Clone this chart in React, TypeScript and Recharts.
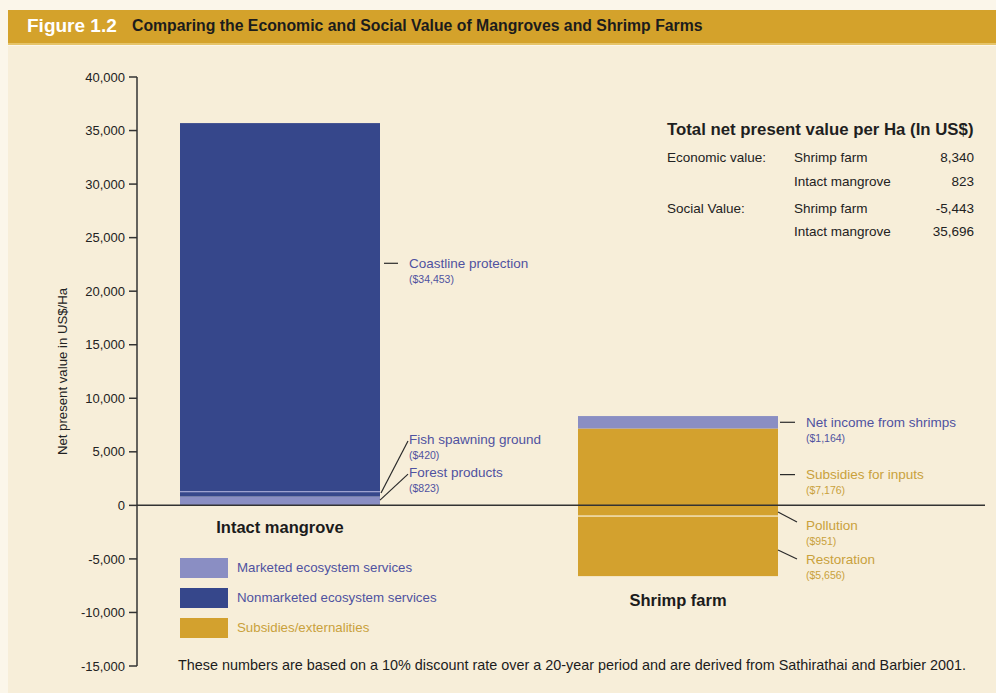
import React from 'react';
import { BarChart, Bar, XAxis, YAxis, ReferenceLine, LabelList } from 'recharts';

// ---------- data ----------
const categories = ['Intact mangrove', 'Shrimp farm'];
const forestProducts = [823, 0];
const fishSpawning = [420, 0];
const coastline = [34453, 0];
const subsidies = [0, 7176];
const netIncome = [0, 1164];
const pollution = [0, -951];
const restoration = [0, -5656];
const yTicks = [-15000, -10000, -5000, 0, 5000, 10000, 15000, 20000, 25000, 30000, 35000, 40000];

const tableTitle = 'Total net present value per Ha (In US$)';
const tableGroups = ['Economic value:', '', 'Social Value:', ''];
const tableItems = ['Shrimp farm', 'Intact mangrove', 'Shrimp farm', 'Intact mangrove'];
const tableValues = ['8,340', '823', '-5,443', '35,696'];

const legendLabels = ['Marketed ecosystem services', 'Nonmarketed ecosystem services', 'Subsidies/externalities'];
const footnote =
  'These numbers are based on a 10% discount rate over a 20-year period and are derived from Sathirathai and Barbier 2001.';

// ---------- styles ----------
const C_MARKET = '#8A8EC3';
const C_NONMARKET = '#36478B';
const C_GOLD = '#D3A12E';
const T_BLUE = '#4F52A0';
const T_GOLD = '#C9A13C';
const BG = '#F7EED9';
const FONT = '"Liberation Sans", Arial, sans-serif';
const legendColors = [C_MARKET, C_NONMARKET, C_GOLD];
const legendTextColors = [T_BLUE, T_BLUE, T_GOLD];

const data = categories.map((name, i) => ({
  name,
  forestProducts: forestProducts[i],
  fishSpawning: fishSpawning[i],
  coastline: coastline[i],
  subsidies: subsidies[i],
  netIncome: netIncome[i],
  pollution: pollution[i],
  restoration: restoration[i],
}));

type Note = {
  index: number;
  title: string;
  amount: string;
  color: string;
  anchor: number; // fraction down the segment where the leader starts
  startDx: number;
  endDx: number;
  rise: number;
  textDx: number;
  textDy: number;
};

const notes: Record<string, Note> = {
  coastline: { index: 0, title: 'Coastline protection', amount: '($34,453)', color: T_BLUE, anchor: 0.38, startDx: 4, endDx: 18, rise: 0, textDx: 29, textDy: 0 },
  fishSpawning: { index: 0, title: 'Fish spawning ground', amount: '($420)', color: T_BLUE, anchor: 0.2, startDx: 1, endDx: 28, rise: -52, textDx: 29, textDy: -2 },
  forestProducts: { index: 0, title: 'Forest products', amount: '($823)', color: T_BLUE, anchor: 0.4, startDx: 0, endDx: 28, rise: -26, textDx: 29, textDy: -2 },
  netIncome: { index: 1, title: 'Net income from shrimps', amount: '($1,164)', color: T_BLUE, anchor: 0.5, startDx: 2, endDx: 17, rise: 0, textDx: 28, textDy: 0 },
  subsidies: { index: 1, title: 'Subsidies for inputs', amount: '($7,176)', color: T_GOLD, anchor: 0.6, startDx: 2, endDx: 17, rise: 0, textDx: 28, textDy: 0 },
  pollution: { index: 1, title: 'Pollution', amount: '($951)', color: T_GOLD, anchor: 0.65, startDx: 0, endDx: 19, rise: 10, textDx: 28, textDy: 3 },
  restoration: { index: 1, title: 'Restoration', amount: '($5,656)', color: T_GOLD, anchor: 0.57, startDx: 0, endDx: 19, rise: 9, textDx: 28, textDy: 0 },
};

const geom = (p: any) => {
  const vb = p.viewBox && p.viewBox.width !== undefined ? p.viewBox : p;
  const x = Number(vb.x);
  const w = Number(vb.width);
  const y = Number(vb.y);
  const h = Number(vb.height);
  return { x, w, top: Math.min(y, y + h), h: Math.abs(h) };
};

const renderNote = (key: string) => (p: any) => {
  const n = notes[key];
  if (p.index !== n.index) return null;
  const { x, w, top, h } = geom(p);
  const right = x + w;
  const sy = top + h * n.anchor;
  const ey = sy + n.rise;
  const ty = ey + n.textDy;
  return (
    <g>
      <line x1={right + n.startDx} y1={sy} x2={right + n.endDx} y2={ey} stroke="#2a2a2a" strokeWidth={1.2} />
      <text x={right + n.textDx} y={ty} dy="0.35em" fill={n.color} fontSize={13.5} fontFamily={FONT}>
        {n.title}
      </text>
      <text x={right + n.textDx} y={ty + 16} dy="0.35em" fill={n.color} fontSize={10.5} fontFamily={FONT}>
        {n.amount}
      </text>
    </g>
  );
};

const renderCategory = (idx: number, gap: number) => (p: any) => {
  if (p.index !== idx) return null;
  const { x, w, top, h } = geom(p);
  return (
    <text x={x + w / 2} y={top + h + gap} dy="0.35em" textAnchor="middle" fill="#1b1b1b" fontSize={16.5} fontWeight="bold" fontFamily={FONT}>
      {categories[idx]}
    </text>
  );
};

const SegShape = (sep: 'none' | 'bottom' | 'top') => (p: any) => {
  const { x, width, y, height, fill } = p;
  const top = Math.min(y, y + height);
  const h = Math.abs(height);
  if (!h || h < 0.3) return null;
  return (
    <g>
      <rect x={x} y={top} width={width} height={h} fill={fill} />
      {sep === 'bottom' && <line x1={x} x2={x + width} y1={top + h - 0.5} y2={top + h - 0.5} stroke="#9DA1D0" strokeWidth={1.3} />}
      {sep === 'top' && <line x1={x} x2={x + width} y1={top + 0.5} y2={top + 0.5} stroke="#F4E7C4" strokeWidth={1.3} />}
    </g>
  );
};

const fmt = (v: number) => v.toLocaleString('en-US');

export default function App() {
  return (
    <div style={{ position: 'relative', width: 996, height: 693, background: '#FBF6EA', overflow: 'hidden', fontFamily: FONT }}>
      <style>{'body{margin:0;}'}</style>
      {/* title bar */}
      <div style={{ position: 'absolute', left: 8, top: 10, width: 988, height: 35, background: '#D4A22B', borderBottom: '2px solid #E6C46A', boxSizing: 'border-box' }}>
        <span style={{ position: 'absolute', left: 19, top: 5, color: '#fff', fontWeight: 'bold', fontSize: 19 }}>Figure 1.2</span>
        <span style={{ position: 'absolute', left: 124, top: 7, color: '#1c1c1c', fontWeight: 'bold', fontSize: 15.8 }}>
          Comparing the Economic and Social Value of Mangroves and Shrimp Farms
        </span>
      </div>
      <div style={{ position: 'absolute', left: 8, top: 46, width: 988, height: 647, background: BG }} />

      <div style={{ position: 'absolute', left: 0, top: 0 }}>
        <BarChart width={996} height={693} data={data} stackOffset="sign" margin={{ top: 77, bottom: 27, left: 57, right: 11 }}>
          <XAxis dataKey="name" hide padding={{ left: -56, right: 108 }} />
          <YAxis
            domain={[-15000, 40000]}
            ticks={yTicks}
            interval={0}
            tickFormatter={fmt}
            width={80}
            tickSize={8}
            tickMargin={4}
            axisLine={{ stroke: '#333', strokeWidth: 1.5 }}
            tickLine={{ stroke: '#333', strokeWidth: 1.5 }}
            tick={{ fill: '#222', fontSize: 13, fontFamily: FONT }}
            label={{
              content: (p: any) => {
                const vb = p.viewBox;
                const cx = vb.x + 5;
                const cy = vb.y + vb.height / 2;
                return (
                  <text x={cx} y={cy} transform={`rotate(-90 ${cx} ${cy})`} textAnchor="middle" dy="0.35em" fill="#222" fontSize={13.2} fontFamily={FONT}>
                    Net present value in US$/Ha
                  </text>
                );
              },
            }}
          />
          <Bar dataKey="forestProducts" stackId="a" fill={C_MARKET} barSize={200} isAnimationActive={false} shape={SegShape('none')}>
            <LabelList content={renderNote('forestProducts')} />
            <LabelList content={renderCategory(0, 22)} />
          </Bar>
          <Bar dataKey="fishSpawning" stackId="a" fill={C_NONMARKET} barSize={200} isAnimationActive={false} shape={SegShape('none')}>
            <LabelList content={renderNote('fishSpawning')} />
          </Bar>
          <Bar dataKey="coastline" stackId="a" fill={C_NONMARKET} barSize={200} isAnimationActive={false} shape={SegShape('bottom')}>
            <LabelList content={renderNote('coastline')} />
          </Bar>
          <Bar dataKey="subsidies" stackId="a" fill={C_GOLD} barSize={200} isAnimationActive={false} shape={SegShape('none')}>
            <LabelList content={renderNote('subsidies')} />
          </Bar>
          <Bar dataKey="netIncome" stackId="a" fill={C_MARKET} barSize={200} isAnimationActive={false} shape={SegShape('none')}>
            <LabelList content={renderNote('netIncome')} />
          </Bar>
          <Bar dataKey="pollution" stackId="a" fill={C_GOLD} barSize={200} isAnimationActive={false} shape={SegShape('none')}>
            <LabelList content={renderNote('pollution')} />
          </Bar>
          <Bar dataKey="restoration" stackId="a" fill={C_GOLD} barSize={200} isAnimationActive={false} shape={SegShape('top')}>
            <LabelList content={renderNote('restoration')} />
            <LabelList content={renderCategory(1, 24)} />
          </Bar>
          <ReferenceLine y={0} stroke="#333" strokeWidth={1.5} />
        </BarChart>
      </div>

      {/* summary table */}
      <div style={{ position: 'absolute', left: 667, top: 120, color: '#1f1f1f', fontWeight: 'bold', fontSize: 16.8, whiteSpace: 'nowrap' }}>{tableTitle}</div>
      {tableItems.map((item, i) => {
        const top = [150, 174, 201, 224][i];
        return (
          <React.Fragment key={i}>
            <div style={{ position: 'absolute', left: 667, top, fontSize: 13.5, color: '#222', whiteSpace: 'nowrap' }}>{tableGroups[i]}</div>
            <div style={{ position: 'absolute', left: 794, top, fontSize: 13.5, color: '#222', whiteSpace: 'nowrap' }}>{item}</div>
            <div style={{ position: 'absolute', right: 996 - 974, top, fontSize: 13.5, color: '#222', whiteSpace: 'nowrap', textAlign: 'right' }}>{tableValues[i]}</div>
          </React.Fragment>
        );
      })}

      {/* legend */}
      {legendLabels.map((l, i) => (
        <React.Fragment key={l}>
          <div style={{ position: 'absolute', left: 180, top: 558 + i * 30, width: 48, height: 20, background: legendColors[i] }} />
          <div style={{ position: 'absolute', left: 237, top: 560 + i * 30, fontSize: 13.3, color: legendTextColors[i], whiteSpace: 'nowrap' }}>{l}</div>
        </React.Fragment>
      ))}

      {/* footnote */}
      <div style={{ position: 'absolute', left: 178, top: 657, fontSize: 14.4, color: '#1c1c1c', whiteSpace: 'nowrap' }}>{footnote}</div>
    </div>
  );
}
